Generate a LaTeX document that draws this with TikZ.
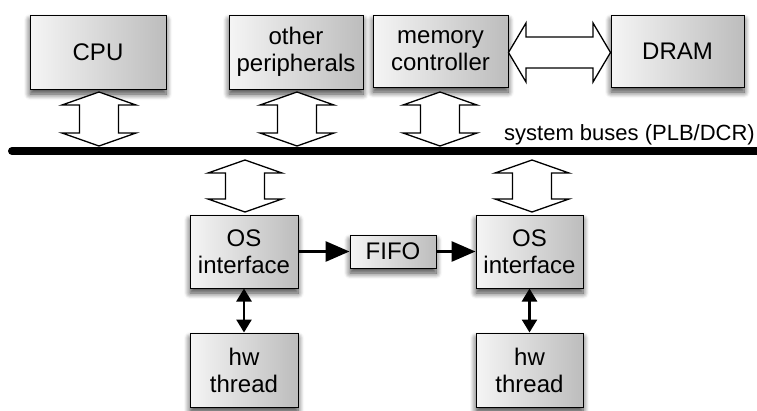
\documentclass[tikz,border=0pt]{standalone}
\usepackage{fontspec}
\setmainfont{Liberation Sans}
\usetikzlibrary{shadows.blur,arrows.meta}
\tikzset{
  blk/.style={draw=black, line width=1pt, left color=black!4, right color=black!26,
    blur shadow={shadow xshift=0pt, shadow yshift=-5pt, shadow blur steps=8, shadow blur radius=6pt, shadow opacity=75},
    align=center, font=\fontsize{24}{27}\selectfont, inner sep=0pt},
  fat/.style={draw=black, line width=1.3pt, fill=white, line join=miter},
  thin/.style={line width=3pt, -{Triangle[length=24pt,width=20pt]}},
  thinb/.style={line width=2.6pt, {Triangle[length=13pt,width=15pt]}-{Triangle[length=13pt,width=15pt]}},
}
% vertical hollow double arrow: center x, top y, bottom y
\newcommand{\vfat}[3]{%
  \draw[fat] (#1,#2) -- (#1+37,#2+13) -- (#1+19.5,#2+13) -- (#1+19.5,#3-13) -- (#1+37,#3-13)
    -- (#1,#3) -- (#1-37,#3-13) -- (#1-19.5,#3-13) -- (#1-19.5,#2+13) -- (#1-37,#2+13) -- cycle;}
\begin{document}
\begin{tikzpicture}[x=1pt,y=-1pt]
\useasboundingbox (0,0) rectangle (757,410);
% top boxes
\node[blk, minimum width=136pt, minimum height=74pt] (cpu) at (98,52) {CPU};
\node[blk, minimum width=134pt, minimum height=74pt] (oth) at (296,52) {other\\peripherals};
\node[blk, minimum width=135pt, minimum height=72pt] (mem) at (440.5,51) {memory\\controller};
\node[blk, minimum width=133pt, minimum height=72pt] (dram) at (677.5,51) {DRAM};
% DRAM arrow
\draw[fat] (mem.east |- 0,52.5) -- (526,23) -- (526,37) -- (593,37) -- (593,23) -- (dram.west |- 0,52.5)
  -- (593,82) -- (593,68) -- (526,68) -- (526,82) -- cycle;
% bus
\coordinate (busL) at (12,151);
\coordinate (busR) at (757,151);
\draw[line width=8pt, line cap=round] (busL) -- (busR);
\node[anchor=base east, font=\fontsize{22}{24}\selectfont, inner sep=0pt] (buslbl) at (755,140) {system buses (PLB/DCR)};
% vertical fat arrows top
\vfat{99}{92}{146}
\vfat{297}{92}{146}
\vfat{440}{92}{146}
% bottom
\vfat{245}{160}{212}
\vfat{532}{160}{212}
\node[blk, minimum width=108pt, minimum height=73pt] (os1) at (244,251.5) {OS\\interface};
\node[blk, minimum width=107pt, minimum height=73pt] (os2) at (529.5,251.5) {OS\\interface};
\node[blk, minimum width=86pt, minimum height=33pt] (fifo) at (393,251.5) {FIFO};
\node[blk, minimum width=108pt, minimum height=74pt] (hw1) at (244,370) {hw\\thread};
\node[blk, minimum width=107pt, minimum height=74pt] (hw2) at (529.5,370) {hw\\thread};
\draw[thin] (os1.east) -- (fifo.west);
\draw[thin] (fifo.east) -- (os2.west);
\draw[thinb] (os1.south) -- (hw1.north);
\draw[thinb] (os2.south) -- (hw2.north);
\end{tikzpicture}
\end{document}
